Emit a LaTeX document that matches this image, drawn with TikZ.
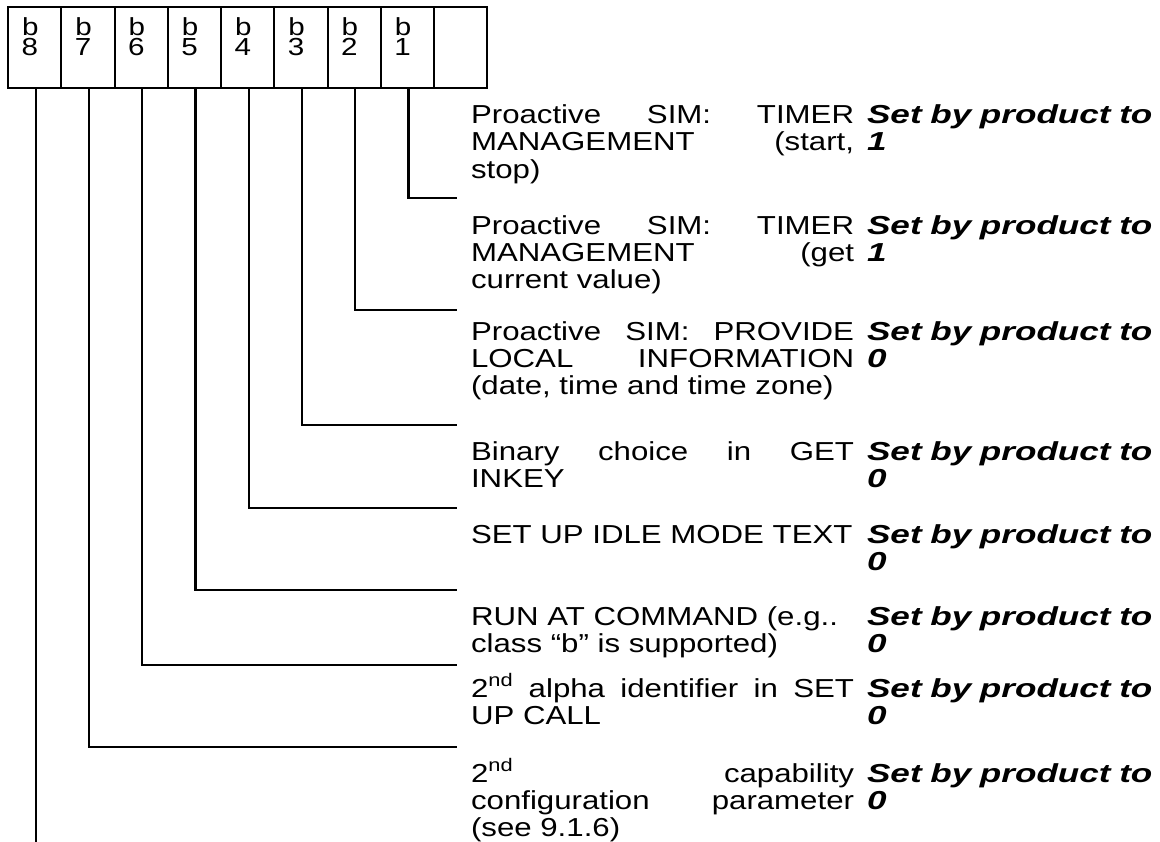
\documentclass[tikz,border=0pt]{standalone}
\usepackage{fontspec}
\setmainfont{Liberation Sans}[FakeStretch=1.2]
\newfontfamily\valfont{Liberation Sans}[FakeStretch=1.35]
\newlength\cw \setlength\cw{287.25pt}
\newcommand\jl[1]{\makebox[\cw][s]{\spaceskip=0.3em plus 1fil\relax #1}}
\begin{document}
\begin{tikzpicture}[x=0.75pt,y=-0.75pt,line width=1.6pt,
  cellbox/.style={draw,line width=1.6pt,anchor=north west,minimum width=39.94pt,minimum height=60.75pt,inner sep=0},
  bittxt/.style={anchor=base west,inner sep=0,font=\fontsize{18.5}{20}\selectfont},
  lbl/.style={anchor=base west,inner sep=0,text width=\cw,align=left,font=\fontsize{19.5}{20.6}\selectfont},
  val/.style={anchor=base west,inner sep=0,text width=225pt,align=left,font=\valfont\bfseries\itshape\fontsize{19.5}{20.6}\selectfont}]
\useasboundingbox (0,0) rectangle (1160,842);
% cells
\foreach \i/\n in {0/8,1/7,2/6,3/5,4/4,5/3,6/2,7/1}{
  \node[cellbox] (c\n) at ({7+53.25*\i},6) {};
  \node[bittxt] (tb\n) at ({7+53.25*\i+14},35.5) {b};
  \node[bittxt] (tn\n) at ({7+53.25*\i+13.5},56) {\n};
}
\node[cellbox] (c0) at ({7+53.25*8},6) {};
% end points
\coordinate (e1) at (457,198);
\coordinate (e2) at (457,310);
\coordinate (e3) at (457,425);
\coordinate (e4) at (457,508);
\coordinate (e5) at (457,590);
\coordinate (e6) at (457,665);
\coordinate (e7) at (457,747);
\coordinate (bot) at (0,842);
\foreach \n in {1,...,8}{
  \coordinate (s\n) at ([xshift=0.75pt]c\n.south);
}
\coordinate (e8) at (s8 |- bot);
\foreach \n in {1,...,7}{
  \draw (s\n) |- (e\n);
}
\draw (s8) -- (e8);
% texts
\node[lbl] (l1) at (470,123.3) {\jl{Proactive SIM: TIMER}\\\jl{MANAGEMENT (start,}\\stop)};
\node[val] (v1) at (866,123.3) {Set by product to\\1};
\node[lbl] (l2) at (470,234) {\jl{Proactive SIM: TIMER}\\\jl{MANAGEMENT (get}\\current value)};
\node[val] (v2) at (866,234) {Set by product to\\1};
\node[lbl] (l3) at (470,340) {\jl{Proactive SIM: PROVIDE}\\\jl{LOCAL INFORMATION}\\(date, time and time zone)};
\node[val] (v3) at (866,340) {Set by product to\\0};
\node[lbl] (l4) at (470,460) {\jl{Binary choice in GET}\\INKEY};
\node[val] (v4) at (866,460) {Set by product to\\0};
\node[lbl] (l5) at (470,543.5) {SET UP IDLE MODE TEXT};
\node[val] (v5) at (866,543.5) {Set by product to\\0};
\node[lbl] (l6) at (470,625.5) {RUN AT COMMAND (e.g..\\class “b” is supported)};
\node[val] (v6) at (866,625.5) {Set by product to\\0};
\node[lbl] (l7) at (470,697) {\jl{2\textsuperscript{nd} alpha identifier in SET}\\UP CALL};
\node[val] (v7) at (866,697) {Set by product to\\0};
\node[lbl] (l8) at (470,782) {\jl{2\textsuperscript{nd} capability}\\\jl{configuration parameter}\\(see 9.1.6)};
\node[val] (v8) at (866,782) {Set by product to\\0};
\end{tikzpicture}
\end{document}
